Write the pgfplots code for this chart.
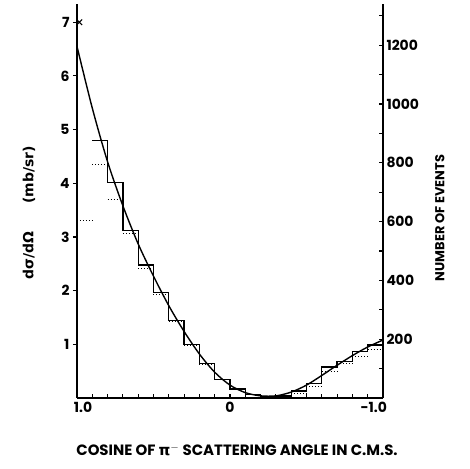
\documentclass[border=0pt]{standalone}
\usepackage{fontspec}
\setmainfont{Poppins}
\newfontfamily\grk{DejaVu Sans}
\usepackage{pgfplots}
\pgfplotsset{compat=1.18}

\pgfplotsset{
  base/.style={
    at={(77bp,71bp)}, anchor=south west,
    scale only axis, width=306bp, height=394bp,
    xmin=-1, xmax=1, x dir=reverse,
    axis line style={line width=1.3bp},
    every tick/.style={line width=1.1bp, black},
    major tick length=4bp, minor tick length=4bp,
    tick label style={font=\fontsize{14}{16}\selectfont\bfseries},
    /pgf/number format/assume math mode=true,
    /pgf/number format/1000 sep={},
    clip=false,
  },
}

\begin{document}
\begin{tikzpicture}
\path (0,0) rectangle (470bp,469bp);

% left axis: cross section
\begin{axis}[base,
  ymin=0, ymax=7.34,
  axis x line=none, axis y line*=left,
  ytick={1,2,3,4,5,6,7},
  tick align=outside,
  ylabel={\grk\bfseries d\kern0.5pt σ/dΩ\qquad (mb/sr)},
  ylabel style={at={(axis description cs:-0.157,0.47)}, anchor=center,
    font=\fontsize{14}{16}\selectfont},
  unbounded coords=jump,
]
% smooth fit
\addplot[black, line width=1.4bp, smooth, tension=0.5] coordinates {
  (1.0,6.55) (0.9,5.40) (0.8,4.40) (0.7,3.58) (0.6,2.87) (0.5,2.27)
  (0.4,1.72) (0.3,1.24) (0.2,0.82) (0.1,0.48) (0.0,0.24) (-0.1,0.10)
  (-0.2,0.04) (-0.3,0.04) (-0.4,0.11) (-0.5,0.24) (-0.6,0.42)
  (-0.7,0.61) (-0.8,0.79) (-0.9,0.95) (-1.0,1.08)
};
% histogram, solid
\addplot[black, line width=1.3bp, const plot] coordinates {
  (0.9,4.80) (0.8,4.02) (0.7,3.12) (0.6,2.48) (0.5,1.96) (0.4,1.45)
  (0.3,1.00) (0.2,0.64) (0.1,0.34) (0.0,0.17) (-0.1,0.06) (-0.2,0.03)
  (-0.3,0.04) (-0.4,0.13) (-0.5,0.27) (-0.6,0.58) (-0.7,0.68)
  (-0.8,0.86) (-0.9,0.99) (-1.0,0.99)
};
% histogram, dotted
\addplot[black, line width=1bp, dotted] coordinates {
  (1.0,3.30) (0.9,3.30) (0.9,nan)
  (0.9,4.35) (0.8,4.35) (0.8,nan)
  (0.8,3.70) (0.7,3.70) (0.7,nan)
  (0.7,3.06) (0.6,3.06) (0.6,nan)
  (0.6,2.42) (0.5,2.42) (0.5,nan)
  (0.5,1.92) (0.4,1.92) (0.4,nan)
  (0.4,1.42) (0.3,1.42) (0.3,nan)
  (0.3,0.97) (0.2,0.97) (0.2,nan)
  (0.2,0.62) (0.1,0.62) (0.1,nan)
  (-0.4,0.09) (-0.5,0.09) (-0.5,nan)
  (-0.5,0.22) (-0.6,0.22) (-0.6,nan)
  (-0.6,0.49) (-0.7,0.49) (-0.7,nan)
  (-0.7,0.64) (-0.8,0.64) (-0.8,nan)
  (-0.8,0.77) (-0.9,0.77) (-0.9,nan)
  (-0.9,0.90) (-1.0,0.90)
};
% forward point
\addplot[only marks, mark=x, mark size=4bp, black, line width=1.1bp] coordinates {(0.985,7.0)};
\end{axis}

% right axis: number of events, and the cosine axis
\begin{axis}[base,
  ymin=0, ymax=1340,
  axis x line*=bottom, axis y line*=right,
  tick align=inside,
  xtick={-0.94,0,0.96}, xticklabels={-1.0,0,1.0},
  major x tick style={draw=none},
  minor xtick={-0.9,-0.8,-0.7,-0.6,-0.5,-0.4,-0.3,-0.2,-0.1,0,0.1,0.2,0.3,0.4,0.5,0.6,0.7,0.8,0.9},
  ytick={200,400,600,800,1000,1200},
  minor ytick={100,300,500,700,900,1100,1300},
  xticklabel style={yshift=-1bp},
  xlabel={COSINE OF {\grk π}$^{\mathbf{-}}$ SCATTERING ANGLE IN C.M.S.},
  xlabel style={at={(axis description cs:0.523,-0.132)}, anchor=center,
    font=\fontsize{15}{17}\selectfont\bfseries},
  ylabel={NUMBER OF EVENTS},
  ylabel style={at={(axis description cs:1.186,0.457)}, anchor=center,
    font=\fontsize{13}{15}\selectfont\bfseries},
]
\end{axis}
\end{tikzpicture}
\end{document}
